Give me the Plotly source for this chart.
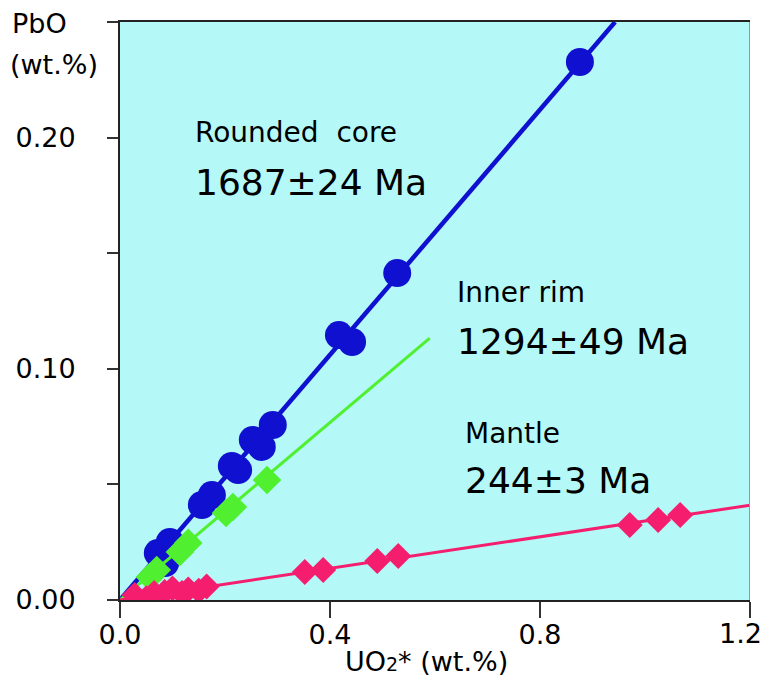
import plotly.graph_objects as go

# ---- data ----
core_x = [0.876, 0.528, 0.417, 0.442, 0.291, 0.270, 0.253, 0.225, 0.213, 0.175, 0.156, 0.095, 0.072, 0.086]
core_y = [0.2327, 0.1414, 0.1146, 0.1116, 0.0757, 0.0662, 0.0692, 0.0562, 0.0580, 0.0454, 0.0411, 0.0251, 0.0203, 0.0160]
core_fit_x = [0.0, 0.943]
core_fit_y = [0.0, 0.250]

rim_x = [0.280, 0.215, 0.202, 0.130, 0.114, 0.070, 0.057]
rim_y = [0.0519, 0.0402, 0.0376, 0.0247, 0.0208, 0.0130, 0.0099]
rim_fit_x = [0.0, 0.590]
rim_fit_y = [0.0, 0.1133]

mantle_x = [0.028, 0.050, 0.065, 0.085, 0.100, 0.118, 0.130, 0.150, 0.165,
            0.352, 0.387, 0.490, 0.530, 0.971, 1.025, 1.067]
mantle_y = [0.0022, 0.0008, 0.0030, 0.0035, 0.0050, 0.0030, 0.0045, 0.0040, 0.0058,
            0.0121, 0.0130, 0.0169, 0.0190, 0.0324, 0.0346, 0.0368]
mantle_fit_x = [0.0, 1.2]
mantle_fit_y = [0.0, 0.041]

x_tickvals = [0.0, 0.4, 0.8, 1.2]
x_ticktext = ["0.0", "0.4", "0.8", ""]   # last label ("1.2") placed so it stays inside the page
x_last_label = "1.2"
y_tickvals = [0.0, 0.05, 0.10, 0.15, 0.20, 0.25]
y_ticktext = ["0.00", "", "0.10", "", "0.20", ""]

labels = [
    ("Rounded  core", 0.139, 0.2020, 28),
    ("1687±24 Ma", 0.139, 0.1805, 36),
    ("Inner rim", 0.638, 0.1328, 28),
    ("1294±49 Ma", 0.638, 0.1116, 36),
    ("Mantle", 0.653, 0.0722, 28),
    ("244±3 Ma", 0.653, 0.0519, 36),
]

BLUE = "#1010D0"
GREEN = "#50F030"
PINK = "#F51E6E"
FONT = "DejaVu Sans"

fig = go.Figure()
fig.add_trace(go.Scatter(x=core_fit_x, y=core_fit_y, mode="lines",
                         line=dict(color=BLUE, width=4.5), showlegend=False))
fig.add_trace(go.Scatter(x=core_x, y=core_y, mode="markers",
                         marker=dict(color=BLUE, size=28, symbol="circle", line=dict(width=0)),
                         showlegend=False))
fig.add_trace(go.Scatter(x=rim_fit_x, y=rim_fit_y, mode="lines",
                         line=dict(color=GREEN, width=3), showlegend=False))
fig.add_trace(go.Scatter(x=rim_x, y=rim_y, mode="markers",
                         marker=dict(color=GREEN, size=22, symbol="diamond", line=dict(width=0)),
                         showlegend=False))
fig.add_trace(go.Scatter(x=mantle_fit_x, y=mantle_fit_y, mode="lines",
                         line=dict(color=PINK, width=3), showlegend=False))
fig.add_trace(go.Scatter(x=mantle_x, y=mantle_y, mode="markers",
                         marker=dict(color=PINK, size=20, symbol="diamond", line=dict(width=0)),
                         showlegend=False))

annotations = []
for text, x, y, size in labels:
    annotations.append(dict(text=text, x=x, y=y, xref="x", yref="y",
                            xanchor="left", yanchor="middle", showarrow=False,
                            font=dict(family=FONT, size=size, color="black")))
annotations += [
    dict(text="PbO", x=-0.1746, y=0.998, xref="paper", yref="paper",
         xanchor="left", yanchor="middle", showarrow=False,
         font=dict(family=FONT, size=27, color="black")),
    dict(text="(wt.%)", x=-0.178, y=0.927, xref="paper", yref="paper",
         xanchor="left", yanchor="middle", showarrow=False,
         font=dict(family=FONT, size=27, color="black")),
    dict(text='UO<span style="font-size:19px">2</span>* (wt.%)', x=0.4865, y=-0.107,
         xref="paper", yref="paper", xanchor="center", yanchor="middle", showarrow=False,
         font=dict(family=FONT, size=27, color="black")),
    dict(text=x_last_label, x=1.0225, y=-0.058, xref="paper", yref="paper",
         xanchor="right", yanchor="middle", showarrow=False,
         font=dict(family=FONT, size=27, color="black")),
]

fig.update_layout(
    width=766, height=681,
    margin=dict(l=120, r=16, t=22, b=81, autoexpand=False),
    plot_bgcolor="#B4F8F8", paper_bgcolor="white",
    annotations=annotations,
    shapes=[dict(type="line", xref="x", yref="y", x0=1.2, x1=1.2, y0=0, y1=0.25,
                 line=dict(color="#999999", width=2))],
)
fig.update_xaxes(range=[0, 1.2], tickvals=x_tickvals, ticktext=x_ticktext,
                 ticks="outside", ticklen=16, tickwidth=2, tickcolor="#333",
                 showline=True, linecolor="#222", linewidth=2, mirror=True,
                 showgrid=False, zeroline=False, ticklabelstandoff=-6,
                 automargin=False,
                 tickfont=dict(family=FONT, size=27, color="black"))
fig.update_yaxes(range=[0, 0.25], tickvals=y_tickvals, ticktext=y_ticktext,
                 ticks="outside", ticklen=11, tickwidth=2, tickcolor="#333",
                 showline=True, linecolor="#222", linewidth=2, mirror=False,
                 showgrid=False, zeroline=False, ticklabelstandoff=26,
                 automargin=False,
                 tickfont=dict(family=FONT, size=27, color="black"))

fig.write_html("out.html")
